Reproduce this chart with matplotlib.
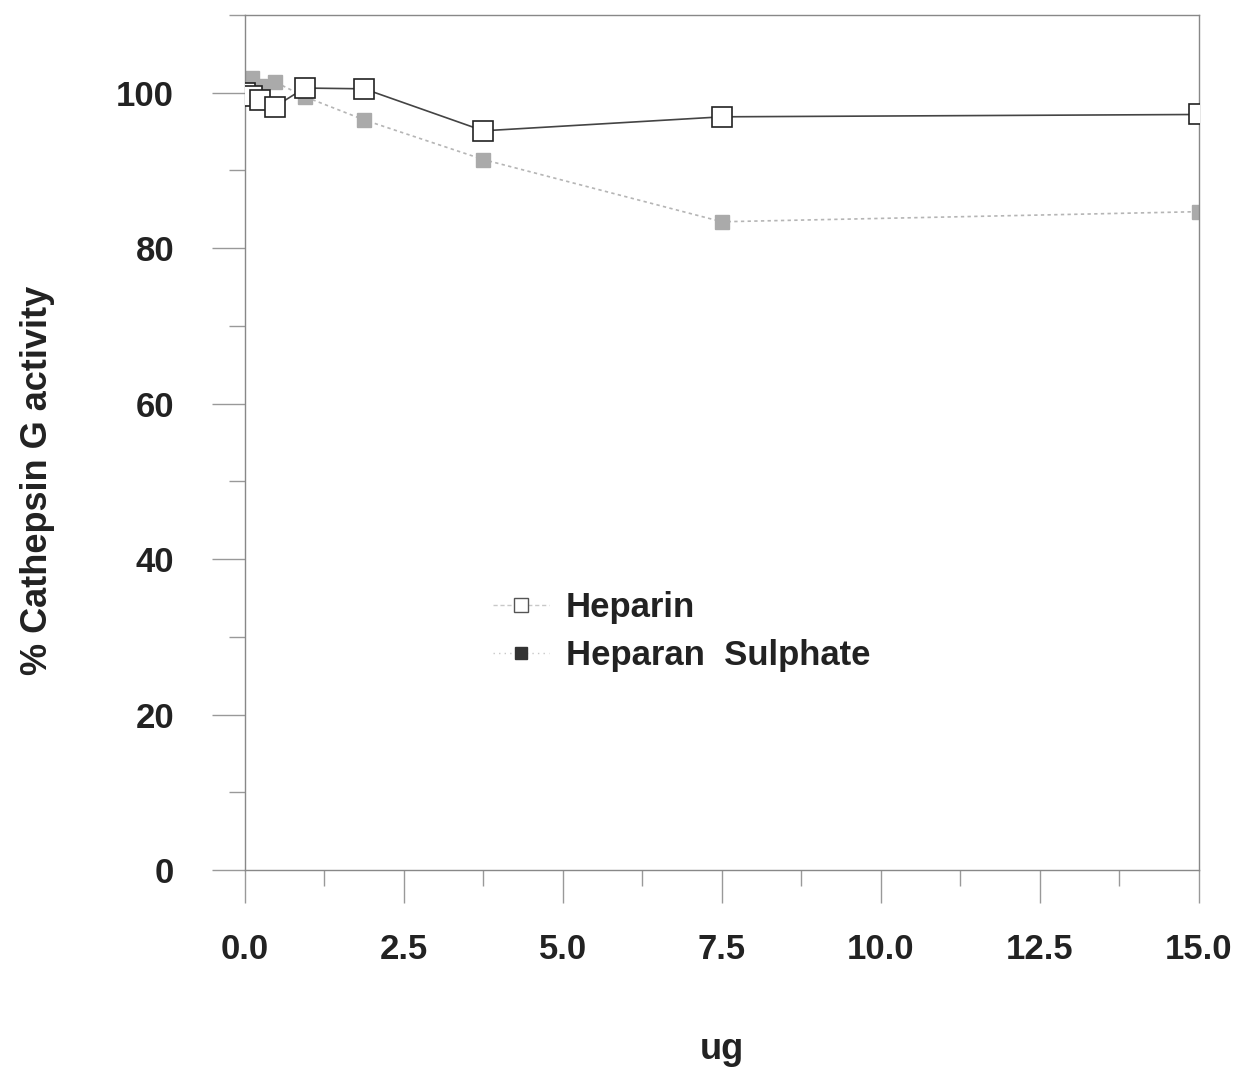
import numpy as np
import matplotlib.pyplot as plt
from matplotlib.lines import Line2D
from matplotlib.ticker import MultipleLocator

plt.rcParams['font.family'] = ['Liberation Sans', 'DejaVu Sans']

# amount of glycosaminoglycan added (ug), two-fold dilutions of 15
ug = [0, 0.117, 0.234, 0.469, 0.9375, 1.875, 3.75, 7.5, 15]
heparin = [100.0, 99.6, 99.1, 98.2, 100.6, 100.5, 95.1, 96.9, 97.2]
heparan_sulphate = [99.8, 101.9, 100.8, 101.4, 99.5, 96.5, 91.4, 83.4, 84.7]
xticks = [0, 2.5, 5, 7.5, 10, 12.5, 15]
yticks = [0, 20, 40, 60, 80, 100]

fig = plt.figure(figsize=(12.34, 10.69), dpi=100)
ax = fig.add_axes([0.1985, 0.186, 0.7731, 0.8])

ax.plot(ug, heparan_sulphate, color='#b5b5b5', lw=1.2, ls=(0, (2, 2)),
        marker='s', ms=10, mfc='#aaaaaa', mec='#aaaaaa', zorder=2)
ax.plot(ug, heparin, color='#444444', lw=1.2, ls='-',
        marker='s', ms=14, mfc='white', mec='#222222', mew=1.2, zorder=3)

ax.set_xlim(0, 15)
ax.set_ylim(0, 110)
ax.set_xticks(xticks)
ax.set_xticklabels(['%.1f' % v for v in xticks])
ax.xaxis.set_minor_locator(MultipleLocator(1.25))
ax.set_yticks(yticks)
ax.yaxis.set_minor_locator(MultipleLocator(10))

for s in ax.spines.values():
    s.set_color('#888888')
    s.set_linewidth(1.0)

ax.tick_params(axis='both', which='major', direction='out', length=24, width=1,
               color='#999999', labelsize=25, labelcolor='#222222')
ax.tick_params(axis='x', which='major', pad=21)
ax.tick_params(axis='y', which='major', pad=27)
ax.tick_params(axis='both', which='minor', direction='out', length=11.5, width=1,
               color='#999999')
for lab in ax.get_xticklabels() + ax.get_yticklabels():
    lab.set_fontweight('bold')

ax.set_xlabel('ug', fontsize=26, fontweight='bold', color='#222222', labelpad=48)
ax.set_ylabel('% Cathepsin G activity', fontsize=26, fontweight='bold',
              color='#222222')
ax.yaxis.set_label_coords(-0.199, 0.456)

handles = [
    Line2D([], [], color='#c8c8c8', lw=1, ls=(0, (3, 2)), marker='s', ms=10,
           mfc='white', mec='#555555', mew=1),
    Line2D([], [], color='#c8c8c8', lw=1, ls=(0, (1, 3)), marker='s', ms=8,
           mfc='#333333', mec='#333333'),
]
leg = ax.legend(handles, ['Heparin', 'Heparan  Sulphate'], loc='center left',
                bbox_to_anchor=(0.26, 0.279), frameon=False, fontsize=25,
                handlelength=1.6, handletextpad=0.5, labelspacing=0.44,
                borderpad=0, borderaxespad=0)
for t in leg.get_texts():
    t.set_fontweight('bold')
    t.set_color('#222222')

fig.savefig('out.png', dpi=100)
